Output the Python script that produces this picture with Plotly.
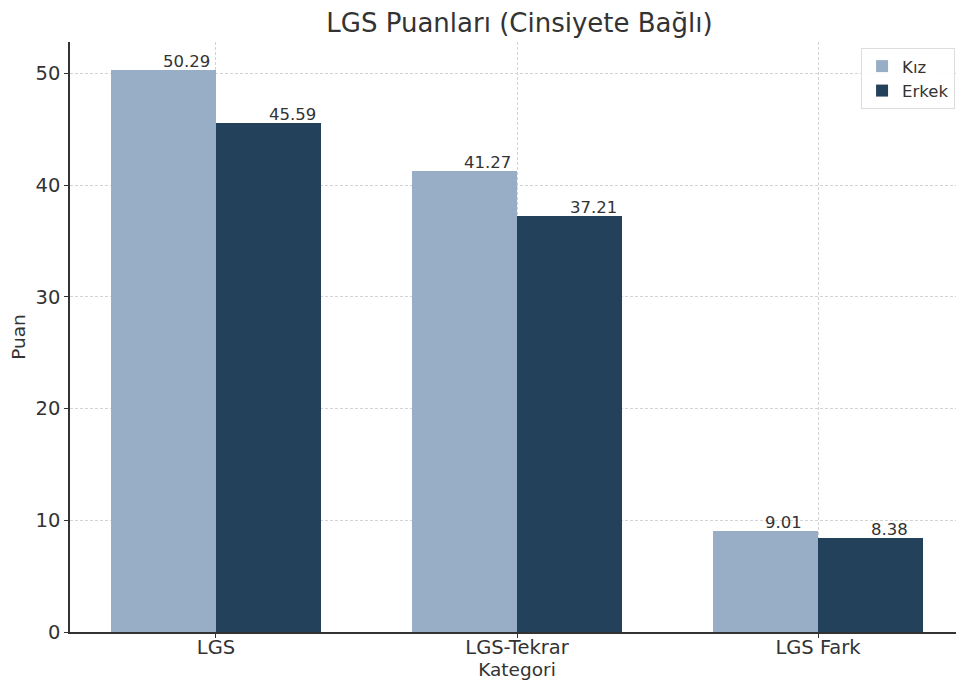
import plotly.graph_objects as go

categories = ["LGS", "LGS-Tekrar", "LGS Fark"]
kiz = [50.29, 41.27, 9.01]
erkek = [45.59, 37.21, 8.38]
y_ticks = [0, 10, 20, 30, 40, 50]

width = 0.35
pos = list(range(len(categories)))
kiz_x = [p - width / 2 for p in pos]
erkek_x = [p + width / 2 for p in pos]

KIZ_C = "#98AEC7"
ERK_C = "#24415B"
FONT = "DejaVu Sans"
TXT = "#333333"

fig = go.Figure()
fig.add_trace(go.Bar(x=kiz_x, y=kiz, width=width, name="Kız",
                     marker=dict(color=KIZ_C, line=dict(width=0))))
fig.add_trace(go.Bar(x=erkek_x, y=erkek, width=width, name="Erkek",
                     marker=dict(color=ERK_C, line=dict(width=0))))

annots = []
for xs, vals in ((kiz_x, kiz), (erkek_x, erkek)):
    for x, v in zip(xs, vals):
        annots.append(dict(x=x, y=v, text=f"{v:.2f}", showarrow=False,
                           xanchor="left", yanchor="bottom", yshift=-3, xshift=-2,
                           font=dict(family=FONT, size=16.5, color=TXT)))

ymax = max(kiz) * 1.05
fig.update_layout(
    width=956, height=679,
    margin=dict(l=62, r=0, t=34, b=55),
    paper_bgcolor="white", plot_bgcolor="white",
    font=dict(family=FONT, color=TXT),
    title=dict(text="LGS Puanları (Cinsiyete Bağlı)", x=0.535, xanchor="center",
               yref="container", y=0.978, yanchor="middle",
               font=dict(family=FONT, size=26, color=TXT)),
    bargap=0, barmode="overlay",
    annotations=annots,
    legend=dict(x=0.99, y=0.99, xanchor="right", yanchor="top",
                bgcolor="rgba(255,255,255,0.9)", bordercolor="#DDDDDD", borderwidth=1,
                font=dict(family=FONT, size=16.5, color=TXT)),
    xaxis=dict(range=[-0.485, 2.485], tickmode="array", tickvals=pos, ticktext=categories,
               showgrid=True, gridcolor="#D3D3D3", griddash="3px,2px", gridwidth=1,
               showline=True, linecolor=TXT, linewidth=1.5,
               ticks="outside", ticklen=4, tickcolor=TXT, ticklabelstandoff=-7,
               tickfont=dict(family=FONT, size=19.5, color=TXT),
               title=dict(text="Kategori", standoff=0,
                          font=dict(family=FONT, size=18.5, color=TXT)),
               layer="above traces", zeroline=False, automargin=False),
    yaxis=dict(range=[0, ymax], tickmode="array", tickvals=y_ticks,
               showgrid=True, gridcolor="#D3D3D3", griddash="3px,2px", gridwidth=1,
               showline=True, linecolor=TXT, linewidth=1.5,
               ticks="outside", ticklen=4, tickcolor=TXT,
               tickfont=dict(family=FONT, size=19.5, color=TXT),
               title=dict(text="Puan", standoff=8,
                          font=dict(family=FONT, size=18.5, color=TXT)),
               layer="above traces", zeroline=False, automargin=False),
)

fig.write_html("out.html")
